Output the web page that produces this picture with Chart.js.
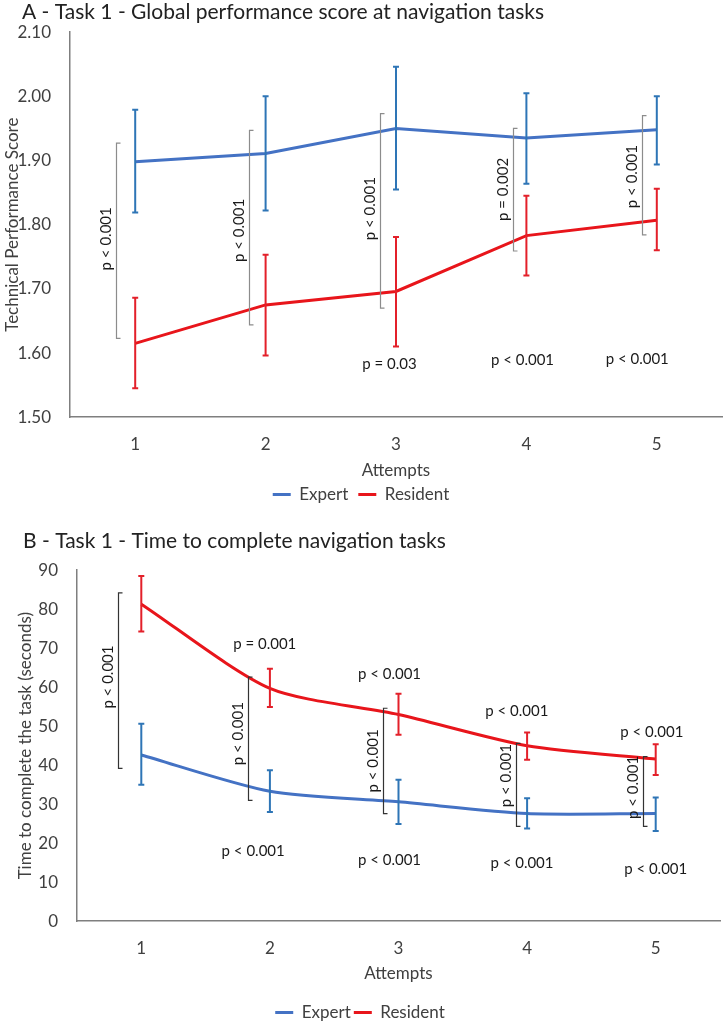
<!DOCTYPE html>
<html><head><meta charset="utf-8">
<script src="https://cdn.jsdelivr.net/npm/chart.js@4.4.1/dist/chart.umd.min.js"></script>
<style>
html,body{margin:0;padding:0;background:#fff;}
body{width:726px;height:1024px;overflow:hidden;position:relative;}
canvas{position:absolute;left:0;}
#chartA{top:0;}
#chartB{top:520px;}
</style></head>
<body>
<canvas id="chartA" width="726" height="520"></canvas>
<canvas id="chartB" width="726" height="504"></canvas>
<script>
// ---------- DATA ----------
const attempts = ['1', '2', '3', '4', '5'];
const seriesNames = ['Expert', 'Resident'];

// A - Global performance score (mean, upper and lower error bar ends)
const scoreExpert       = [1.898, 1.911, 1.950, 1.935, 1.948];
const scoreExpertHigh   = [1.979, 2.000, 2.046, 2.005, 2.000];
const scoreExpertLow    = [1.819, 1.822, 1.855, 1.864, 1.894];
const scoreResident     = [1.615, 1.675, 1.696, 1.783, 1.807];
const scoreResidentHigh = [1.686, 1.753, 1.781, 1.845, 1.856];
const scoreResidentLow  = [1.545, 1.596, 1.610, 1.721, 1.760];
const scoreTicks = [1.50, 1.60, 1.70, 1.80, 1.90, 2.00, 2.10];

// A - comparison brackets (value span) and p-values
const scoreBracketTop    = [1.927, 1.947, 1.973, 1.950, 1.970];
const scoreBracketBottom = [1.623, 1.644, 1.670, 1.759, 1.784];
const scoreBracketP      = ['p < 0.001', 'p < 0.001', 'p < 0.001', 'p = 0.002', 'p < 0.001'];
const scoreResidentTrendP = ['p = 0.03', 'p < 0.001', 'p < 0.001'];

// B - Time to complete (seconds)
const timeExpert       = [42.6, 33.3, 30.6, 27.6, 27.6];
const timeExpertHigh   = [50.6, 38.7, 36.3, 31.5, 31.7];
const timeExpertLow    = [35.0, 28.0, 24.9, 23.8, 23.1];
const timeResident     = [81.3, 59.7, 53.0, 45.0, 41.6];
const timeResidentHigh = [88.5, 64.7, 58.3, 48.4, 45.4];
const timeResidentLow  = [74.3, 54.9, 47.8, 41.4, 37.5];
const timeTicks = [0, 10, 20, 30, 40, 50, 60, 70, 80, 90];

const timeBracketTop    = [84.2, 62.6, 54.6, 45.6, 42.2];
const timeBracketBottom = [39.2, 31.0, 27.6, 24.3, 24.3];
const timeBracketP      = ['p < 0.001', 'p < 0.001', 'p < 0.001', 'p < 0.001', 'p < 0.001'];
const timeResidentTrendP = ['p = 0.001', 'p < 0.001', 'p < 0.001', 'p < 0.001'];
const timeExpertTrendP   = ['p < 0.001', 'p < 0.001', 'p < 0.001', 'p < 0.001'];

// ---------- PLACEMENT (in axis units: fractional category index, value) ----------
const placeA = {
  bracketX: [-0.15, -0.13, -0.12, -0.10, -0.115],
  bracketLabelY: [1.778, 1.791, 1.825, 1.855, 1.875],
  residentTrend: [[1.95, 1.583], [2.97, 1.589], [3.85, 1.591]]
};
const placeB = {
  bracketX: [-0.18, -0.17, -0.12, -0.09, -0.10],
  bracketLabelY: [62.6, 48.1, 41.1, 37.3, 34.3],
  residentTrend: [[0.96, 71.0], [1.93, 63.3], [2.92, 53.8], [3.97, 48.4]],
  expertTrend: [[0.87, 18.0], [1.93, 15.7], [2.96, 15.0], [4.0, 13.3]]
};

const FONT = 'Lato, "Open Sans", sans-serif';
const BLUE = '#4472C4', BLUE_ERR = '#2E75B6';
const RED = '#E8151B', RED_ERR = '#E3202A';
Chart.defaults.font.family = FONT;
Chart.defaults.color = '#333';

// ---------- PLUGIN: error bars, brackets, p-value labels ----------
const statsPlugin = {
  id: 'stats',
  afterLayout(chart, args, opts) {
    if (chart.titleBlock) { chart.titleBlock.left = opts.titleLeft; }
  },
  afterDatasetsDraw(chart, args, opts) {
    const ctx = chart.ctx, xs = chart.scales.x, ys = chart.scales.y;
    ctx.save();
    // error bars
    opts.errors.forEach(e => {
      ctx.strokeStyle = e.color; ctx.lineWidth = 2;
      e.high.forEach((h, i) => {
        const x = xs.getPixelForValue(i);
        const y1 = ys.getPixelForValue(h), y2 = ys.getPixelForValue(e.low[i]);
        ctx.beginPath();
        ctx.moveTo(x, y1); ctx.lineTo(x, y2);
        ctx.moveTo(x - 3, y1); ctx.lineTo(x + 3, y1);
        ctx.moveTo(x - 3, y2); ctx.lineTo(x + 3, y2);
        ctx.stroke();
      });
    });
    // brackets
    ctx.strokeStyle = opts.bracketColor; ctx.lineWidth = 1.2;
    ctx.fillStyle = '#1a1a1a';
    ctx.font = '15px ' + FONT;
    opts.bTop.forEach((t, i) => {
      const x = Math.round(xs.getPixelForValue(i + opts.bX[i])) + 0.5;
      const y1 = ys.getPixelForValue(t), y2 = ys.getPixelForValue(opts.bBottom[i]);
      ctx.beginPath();
      ctx.moveTo(x + 4, y1); ctx.lineTo(x, y1); ctx.lineTo(x, y2); ctx.lineTo(x + 4, y2);
      ctx.stroke();
      ctx.save();
      ctx.translate(x - 10, ys.getPixelForValue(opts.bLabelY[i]));
      ctx.rotate(-Math.PI / 2);
      ctx.textAlign = 'center'; ctx.textBaseline = 'middle';
      ctx.fillText(opts.bText[i], 0, 0);
      ctx.restore();
    });
    // horizontal p labels
    ctx.textAlign = 'center'; ctx.textBaseline = 'middle';
    opts.labels.forEach(g => {
      g.text.forEach((t, i) => {
        const [cx, cy] = g.pos[i];
        ctx.fillText(t, xs.getPixelForValue(cx), ys.getPixelForValue(cy));
      });
    });
    ctx.restore();
  }
};

function makeChart(id, cfg) {
  return new Chart(document.getElementById(id), {
    type: 'line',
    data: {
      labels: attempts,
      datasets: [
        { label: seriesNames[0], data: cfg.expert, borderColor: BLUE, backgroundColor: BLUE, borderWidth: 3, pointRadius: 0, tension: cfg.tension },
        { label: seriesNames[1], data: cfg.resident, borderColor: RED, backgroundColor: RED, borderWidth: 3, pointRadius: 0, tension: cfg.tension }
      ]
    },
    options: {
      responsive: false,
      animation: false,
      devicePixelRatio: 1,
      layout: { padding: cfg.padding },
      scales: {
        x: {
          offset: true,
          grid: { display: false, drawTicks: false },
          border: { color: '#7f7f7f', width: 1.5 },
          ticks: { font: { size: 17 }, color: '#404040', padding: 17 },
          title: { display: true, text: 'Attempts', font: { size: 17 }, color: '#404040', padding: cfg.xTitlePad }
        },
        y: {
          min: cfg.ticks[0], max: cfg.ticks[cfg.ticks.length - 1],
          afterBuildTicks: s => { s.ticks = cfg.ticks.map(v => ({ value: v })); },
          afterFit: s => { s.width = cfg.yWidth; },
          grid: { display: false, drawTicks: false },
          border: { color: '#7f7f7f', width: 1.5 },
          ticks: { font: { size: 17 }, color: '#404040', padding: cfg.yTickPad, callback: cfg.fmt },
          title: { display: true, text: cfg.yTitle, font: { size: cfg.yTitleSize }, color: '#404040', padding: { top: cfg.yTitlePad, bottom: 0 } }
        }
      },
      plugins: {
        title: { display: true, text: cfg.title, align: 'start', font: { size: 21, weight: 'normal' }, color: '#222', padding: cfg.titlePad },
        legend: {
          position: 'bottom',
          labels: { usePointStyle: true, pointStyle: 'line', pointStyleWidth: 18, font: { size: 17 }, color: '#404040', padding: cfg.legendPad, boxHeight: 17 }
        },
        tooltip: { enabled: false },
        stats: cfg.stats
      }
    },
    plugins: [statsPlugin]
  });
}

makeChart('chartA', {
  expert: scoreExpert, resident: scoreResident, ticks: scoreTicks, tension: 0,
  fmt: v => Number(v).toFixed(2),
  title: 'A - Task 1 - Global performance score at navigation tasks',
  titlePad: { top: 0, bottom: 7 },
  yTitle: 'Technical Performance Score', yTitleSize: 17, yTitlePad: 2,
  yWidth: 70, yTickPad: 19,
  xTitlePad: { top: -11, bottom: -5 },
  padding: { left: 0, right: 4, top: 0, bottom: 7 },
  legendPad: 10,
  stats: {
    titleLeft: 22,
    errors: [
      { high: scoreExpertHigh, low: scoreExpertLow, color: BLUE_ERR },
      { high: scoreResidentHigh, low: scoreResidentLow, color: RED_ERR }
    ],
    bracketColor: '#8c8c8c',
    bTop: scoreBracketTop, bBottom: scoreBracketBottom, bText: scoreBracketP,
    bX: placeA.bracketX, bLabelY: placeA.bracketLabelY,
    labels: [{ text: scoreResidentTrendP, pos: placeA.residentTrend }]
  }
});

makeChart('chartB', {
  expert: timeExpert, resident: timeResident, ticks: timeTicks, tension: 0.25,
  fmt: v => String(v),
  title: 'B - Task 1 - Time to complete navigation tasks',
  titlePad: { top: 9, bottom: 16 },
  yTitle: 'Time to complete the task (seconds)', yTitleSize: 17, yTitlePad: 15,
  yWidth: 77, yTickPad: 19,
  xTitlePad: { top: -12, bottom: 17 },
  padding: { left: 0, right: 6, top: 0, bottom: -7 },
  legendPad: 3,
  stats: {
    titleLeft: 23,
    errors: [
      { high: timeExpertHigh, low: timeExpertLow, color: BLUE_ERR },
      { high: timeResidentHigh, low: timeResidentLow, color: RED_ERR }
    ],
    bracketColor: '#333333',
    bTop: timeBracketTop, bBottom: timeBracketBottom, bText: timeBracketP,
    bX: placeB.bracketX, bLabelY: placeB.bracketLabelY,
    labels: [
      { text: timeResidentTrendP, pos: placeB.residentTrend },
      { text: timeExpertTrendP, pos: placeB.expertTrend }
    ]
  }
});
</script>
</body></html>
